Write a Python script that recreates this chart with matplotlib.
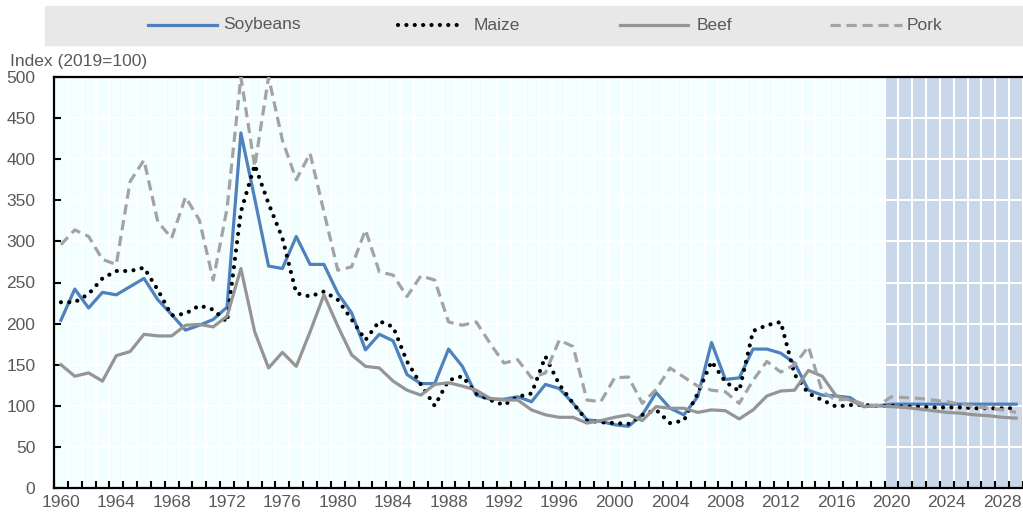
import numpy as np
import matplotlib
matplotlib.use("Agg")
import matplotlib.pyplot as plt
from matplotlib.lines import Line2D
from matplotlib.patches import Rectangle
from matplotlib.ticker import FixedLocator

plt.rcParams['font.family'] = ['Liberation Sans Narrow', 'Liberation Sans', 'DejaVu Sans']

years = np.arange(1960, 2030)

soybeans = [204, 242, 219, 238, 235, 245, 255, 229, 211, 192,
            198, 205, 220, 432, 352, 270, 267, 306, 272, 272,
            237, 213, 168, 187, 179, 138, 127, 127, 169, 148,
            113, 108, 108, 111, 105, 126, 121, 103, 83, 81,
            77, 75, 89, 116, 97, 89, 111, 177, 132, 134,
            169, 169, 164, 152, 119, 113, 112, 110, 99, 100,
            102, 102, 102, 102, 102, 102, 102, 102, 102, 102]

maize = [226, 226, 236, 255, 264, 264, 268, 241, 210, 212,
         222, 217, 202, 336, 393, 346, 304, 237, 233, 239,
         229, 205, 180, 203, 196, 154, 126, 100, 131, 136,
         115, 107, 101, 111, 115, 160, 126, 103, 82, 80,
         79, 78, 89, 95, 79, 82, 115, 154, 129, 118,
         191, 198, 202, 138, 115, 107, 99, 101, 101, 100,
         100, 99, 99, 98, 98, 98, 97, 97, 97, 97]

beef = [150, 136, 140, 130, 161, 166, 187, 185, 185, 198,
        199, 196, 209, 267, 190, 146, 165, 148, 190, 235,
        197, 162, 148, 146, 130, 119, 113, 126, 128, 124,
        119, 109, 107, 107, 95, 89, 86, 86, 79, 82,
        86, 89, 82, 99, 97, 97, 92, 95, 94, 84,
        95, 112, 118, 119, 143, 136, 112, 107, 99, 100,
        99, 98, 96, 94, 92, 91, 89, 88, 86, 85]

pork = [296, 314, 306, 278, 272, 373, 399, 324, 304, 354,
        326, 253, 340, 500, 391, 500, 423, 375, 407, 336,
        265, 269, 314, 263, 259, 233, 258, 253, 202, 198,
        202, 176, 152, 156, 134, 140, 180, 172, 107, 105,
        134, 135, 103, 120, 146, 135, 124, 119, 117, 103,
        131, 154, 141, 150, 172, 117, 107, 108, 102, 100,
        111, 110, 109, 107, 105, 102, 99, 97, 95, 92]

labels = ['Soybeans', 'Maize', 'Beef', 'Pork']
text_col = '#595959'
fs = 12.5

W, H = 1023, 513
fig = plt.figure(figsize=(W / 100, H / 100), dpi=100)
ax = fig.add_axes([54 / W, 1 - 488 / H, 969 / W, 411 / H])
ax.set_facecolor('#F3FEFF')

# projection period
ax.axvspan(2019.5, 2029.5, color='#C9D7EA', lw=0, zorder=0.2)

styles = [
    dict(color='#4F81BD', lw=2.3),
    dict(color='black', lw=3, linestyle=(0, (0.01, 2.0)), dash_capstyle='round'),
    dict(color='#959595', lw=2.3),
    dict(color='#A3A3A3', lw=2.3, linestyle=(0, (3.2, 1.8))),
]
for i, series in enumerate([soybeans, maize, beef, pork]):
    ax.plot(years, series, zorder=2 + i, **styles[i])

ax.set_xlim(1959.5, 2029.5)
ax.set_ylim(0, 500)
ax.set_yticks(np.arange(0, 501, 50))
ax.set_xticks(np.arange(1960, 2030, 4))
ax.xaxis.set_minor_locator(FixedLocator(np.arange(1959.5, 2030, 1)))

ax.set_axisbelow(True)
ax.grid(axis='y', which='major', color='white', lw=1.5)
ax.grid(axis='x', which='minor', color='white', lw=1.5)

ax.tick_params(axis='x', which='major', length=0, pad=5, labelsize=fs, labelcolor=text_col)
ax.tick_params(axis='x', which='minor', direction='in', length=5, width=1.5, color='black')
ax.tick_params(axis='y', direction='in', length=5, width=1.5, color='black',
               pad=13.5, labelsize=fs, labelcolor=text_col)

for s in ['left', 'top', 'bottom']:
    ax.spines[s].set_linewidth(1.6)
    ax.spines[s].set_color('black')
ax.spines['right'].set_visible(False)

fig.text(10 / W, 1 - 66 / H, 'Index (2019=100)', fontsize=fs, color=text_col,
         ha='left', va='baseline')

# legend band with hand-placed entries
fig.patches.append(Rectangle((45 / W, 1 - 45 / H), 978 / W, 39 / H,
                             transform=fig.transFigure, color='#E8E8E8', zorder=0))
handle_x = [(148, 217), (398, 458), (620, 688), (830, 902)]
text_x = [223, 474, 697, 907]
ly = 1 - 25 / H
for i, lab in enumerate(labels):
    x0, x1 = handle_x[i]
    fig.add_artist(Line2D([x0 / W, x1 / W], [ly, ly], transform=fig.transFigure, **styles[i]))
    fig.text(text_x[i] / W, ly, lab, fontsize=fs, color=text_col, ha='left', va='center')

fig.savefig('out.png', dpi=100)
